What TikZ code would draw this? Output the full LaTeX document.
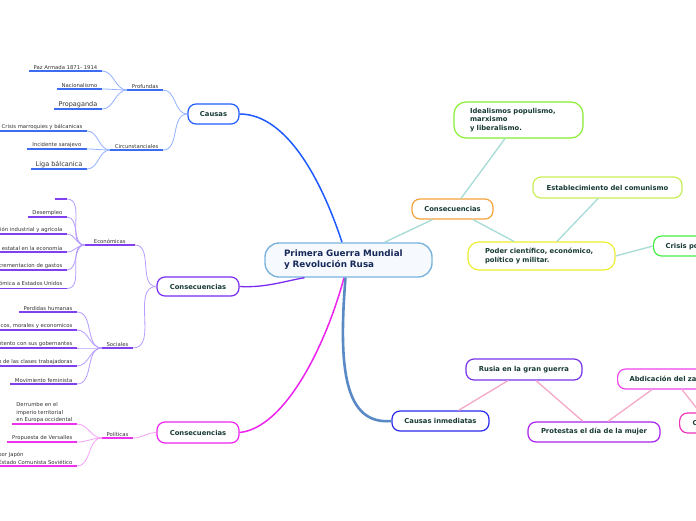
\documentclass[tikz,border=0pt]{standalone}
\usepackage{fontspec}
\setmainfont{DejaVu Sans}
\usetikzlibrary{calc}
\definecolor{nodetxt}{HTML}{173A34}
\definecolor{leaftxt}{HTML}{333333}
\definecolor{cblue}{HTML}{1F5BFF}
\definecolor{ulblue}{HTML}{3D6CF2}
\definecolor{lnblue}{HTML}{93B1FF}
\definecolor{cpurp}{HTML}{7A2CF0}
\definecolor{ulpurp}{HTML}{8040F0}
\definecolor{lnpurp}{HTML}{B69CFF}
\definecolor{cmag}{HTML}{EE22EE}
\definecolor{ulmag}{HTML}{EE33EE}
\definecolor{lnmag}{HTML}{F7A0F7}
\definecolor{censtroke}{HTML}{7AB4DE}
\definecolor{cenfill}{HTML}{F6FAFE}
\definecolor{centxt}{HTML}{17285A}
\definecolor{steel}{HTML}{5A8AC6}
\definecolor{teal}{HTML}{A6DBD6}
\definecolor{pinkln}{HTML}{F5A8C8}
\definecolor{corange}{HTML}{F6A23A}
\definecolor{clime}{HTML}{88EE33}
\definecolor{cyg}{HTML}{C8EE55}
\definecolor{cyel}{HTML}{EEEE33}
\definecolor{cgreen}{HTML}{44EE44}
\definecolor{cblue2}{HTML}{2A2AEE}
\definecolor{cpurp2}{HTML}{7733EE}
\definecolor{cpurp3}{HTML}{AA22EE}
\definecolor{cmag2}{HTML}{EE44EE}
\definecolor{cpink}{HTML}{EE33BB}
\begin{document}
\begin{tikzpicture}[x=1pt,y=-1pt,
  box/.style={draw, rounded corners=8pt, line width=1.2pt, fill=white, text=nodetxt,
    font=\bfseries\fontsize{6.8}{8.3}\selectfont, inner sep=0pt, minimum height=20pt, align=center},
  openbox/.style={box, anchor=west, inner xsep=12pt, minimum width=0pt},
  leaf/.style={anchor=south east, inner xsep=4.5pt, inner ysep=1.4pt, text=leaftxt,
    font=\fontsize{5.3}{6.7}\selectfont, align=left},
  bigleaf/.style={leaf, font=\fontsize{6.5}{8}\selectfont},
  ulB/.style={line width=1.6pt, color=ulblue},
  lnB/.style={line width=0.8pt, color=lnblue},
  ulP/.style={line width=1.6pt, color=ulpurp},
  lnP/.style={line width=0.8pt, color=lnpurp},
  ulM/.style={line width=1.6pt, color=ulmag},
  lnM/.style={line width=0.8pt, color=lnmag},
  tealln/.style={line width=1.3pt, color=teal},
  pinkl/.style={line width=1.3pt, color=pinkln},
  tree/.style={out=180,in=0}]
\useasboundingbox (0,0) rectangle (696,520);
\clip (0,0) rectangle (696,520);
\fill[white] (0,0) rectangle (696,520);

% ---------- main nodes ----------
\node[draw=censtroke, fill=cenfill, line width=1.4pt, rounded corners=14pt,
  minimum width=167pt, minimum height=34pt, inner sep=0pt, text=centxt, align=left, text width=129pt,
  font=\bfseries\fontsize{8.8}{11}\selectfont] (cen) at (348.5,260)
  {Primera Guerra Mundial\\y Revolución Rusa};

\node[box, draw=cblue, minimum width=51pt] (causas) at (213.5,114) {Causas};
\node[box, draw=cpurp, minimum width=82pt, minimum height=19pt] (consP) at (198,286.5) {Consecuencias};
\node[box, draw=cmag, minimum width=82pt, minimum height=21pt] (consM) at (198,432.5) {Consecuencias};
\node[box, draw=cblue2, minimum width=97pt] (inmed) at (440.5,421) {Causas inmediatas};
\node[box, draw=cpurp2, minimum width=116pt, minimum height=21pt] (rusia) at (524,369.5) {Rusia en la gran guerra};
\node[box, draw=cpurp3, minimum width=132pt] (protestas) at (594,432) {Protestas el día de la mujer};
\node[openbox, draw=cmag2] (abdic) at (617,379) {Abdicación del zar};
\node[openbox, draw=cpink, inner xsep=13pt] (cnode) at (679,423) {Caída del zarismo};
\node[box, draw=corange, minimum width=81pt] (consO) at (452.5,209) {Consecuencias};
\node[box, draw=clime, minimum width=129pt, minimum height=36pt, align=left, text width=97pt, rounded corners=12pt] (ideal) at (518.5,120)
  {Idealismos populismo,\\marxismo\\y liberalismo.};
\node[box, draw=cyg, minimum width=149pt, minimum height=21pt] (estab) at (607.5,187.5) {Establecimiento del comunismo};
\node[box, draw=cyel, minimum width=147pt, minimum height=28pt, align=left, text width=113pt, rounded corners=11pt] (poder) at (541.5,256)
  {Poder científico, económico,\\político y militar.};
\node[openbox, draw=cgreen] (crisis) at (653,246) {Crisis política};

% ---------- main connectors ----------
\draw[cblue, line width=1.5pt] (causas.east) .. controls (290,114) and (325,190) .. ([xshift=-6.5pt]cen.north);
\draw[cpurp, line width=1.3pt] (consP.east) .. controls (265,288) and (285,281) .. ([xshift=-44pt]cen.south);
\draw[cmag, line width=1.5pt] ([xshift=-4.5pt]cen.south) .. controls (326,345) and (285,428) .. (consM.east);
\draw[steel, line width=2.6pt] ([xshift=-3pt]cen.south) .. controls (338,370) and (345,425) .. (inmed.west);

% ---------- right side connectors ----------
\draw[tealln] ([xshift=36pt]cen.north) -- ([xshift=-20pt]consO.south);
\draw[tealln] ([xshift=8.5pt]consO.north) -- ([xshift=-13.5pt]ideal.south);
\draw[tealln] ([xshift=20.5pt]consO.south) -- ([xshift=-27.5pt]poder.north);
\draw[tealln] ([xshift=-9.5pt]estab.south) -- ([xshift=15.5pt]poder.north);
\draw[tealln] (poder.east) -- (crisis.west);
\draw[pinkl] ([xshift=18pt]inmed.north) -- ([xshift=-16pt]rusia.south);
\draw[pinkl] ([xshift=12pt]rusia.south) -- ([xshift=-11pt]protestas.north);
\draw[pinkl] ([xshift=14pt]protestas.north) -- ([xshift=35pt]abdic.south west);
\draw[pinkl] ([xshift=65pt]abdic.south west) -- ([xshift=21pt]cnode.north west);

% ---------- Causas branch ----------
\node[leaf] (prof) at (163,90) {Profundas};
\node[leaf] (circ) at (163,150) {Circunstanciales};
\node[leaf] (paz) at (102,71) {Paz Armada 1871- 1914};
\node[leaf] (nac) at (102,89) {Nacionalismo};
\node[bigleaf] (prop) at (102,109) {Propaganda};
\node[leaf] (cri) at (87,131) {Crisis marroquies y bálcanicas};
\node[leaf, inner xsep=5.5pt] (inc) at (87,149) {Incidente sarajevo};
\node[bigleaf] (liga) at (87,169) {Liga bálcanica};

\draw[lnB] (causas.west) to[tree] (prof.south east);
\draw[lnB] (causas.west) to[tree] (circ.south east);
\foreach \n in {paz,nac,prop} \draw[lnB] (prof.south west) to[tree] (\n.south east);
\foreach \n in {cri,inc,liga} \draw[lnB] (circ.south west) to[tree] (\n.south east);
\foreach \n in {prof,circ,paz,nac,prop,cri,inc,liga} \draw[ulB] (\n.south west) -- (\n.south east);

% ---------- Consecuencias (purple) ----------
\node[leaf, minimum width=50pt, align=center] (econ) at (135,245) {Económicas};
\node[leaf] (soc) at (133,348) {Sociales};
\node[leaf, minimum width=12pt] (e0) at (67,199) {};
\node[leaf] (e1) at (67,217) {Desempleo};
\node[leaf] (e2) at (67,234) {Producción industrial y agricola};
\node[leaf] (e3) at (67,252) {Intervención estatal en la economía};
\node[leaf] (e4) at (67,270) {Incrementacion de gastos};
\node[leaf] (e5) at (67,288.5) {Dependencia económica a Estados Unidos};
\node[leaf] (s1) at (77,312) {Perdidas humanas};
\node[leaf] (s2) at (77,330) {Daños físicos, morales y economicos};
\node[leaf] (s3) at (77,348) {Descontento con sus gobernantes};
\node[leaf] (s4) at (77,366) {Organización de las clases trabajadoras};
\node[leaf] (s5) at (77,384) {Movimiento feminista};

\draw[lnP] (consP.west) to[tree] (econ.south east);
\draw[lnP] (consP.west) to[tree] (soc.south east);
\foreach \n in {e0,e1,e2,e3,e4,e5} \draw[lnP] (econ.south west) to[tree] (\n.south east);
\foreach \n in {s1,s2,s3,s4,s5} \draw[lnP] (soc.south west) to[tree] (\n.south east);
\foreach \n in {econ,soc,e0,e1,e2,e3,e4,e5,s1,s2,s3,s4,s5} \draw[ulP] (\n.south west) -- (\n.south east);

% ---------- Consecuencias (magenta) ----------
\node[leaf] (pol) at (133,438) {Políticas};
\node[leaf, font=\fontsize{5.3}{7.2}\selectfont] (p1) at (77,424) {Derrumbe en el\\ imperio territorial\\en Europa occidental};
\node[leaf, font=\fontsize{5.3}{7.6}\selectfont] (p3) at (77,466) {por Japón\\Estado Comunista Soviético};
\node[leaf] (p2) at (77,442) {Propuesta de Versalles};

\draw[lnM] (consM.west) to[tree] (pol.south east);
\foreach \n in {p1,p2,p3} \draw[lnM] (pol.south west) to[tree] (\n.south east);
\foreach \n in {pol,p1,p2,p3} \draw[ulM] (\n.south west) -- (\n.south east);
\end{tikzpicture}
\end{document}
